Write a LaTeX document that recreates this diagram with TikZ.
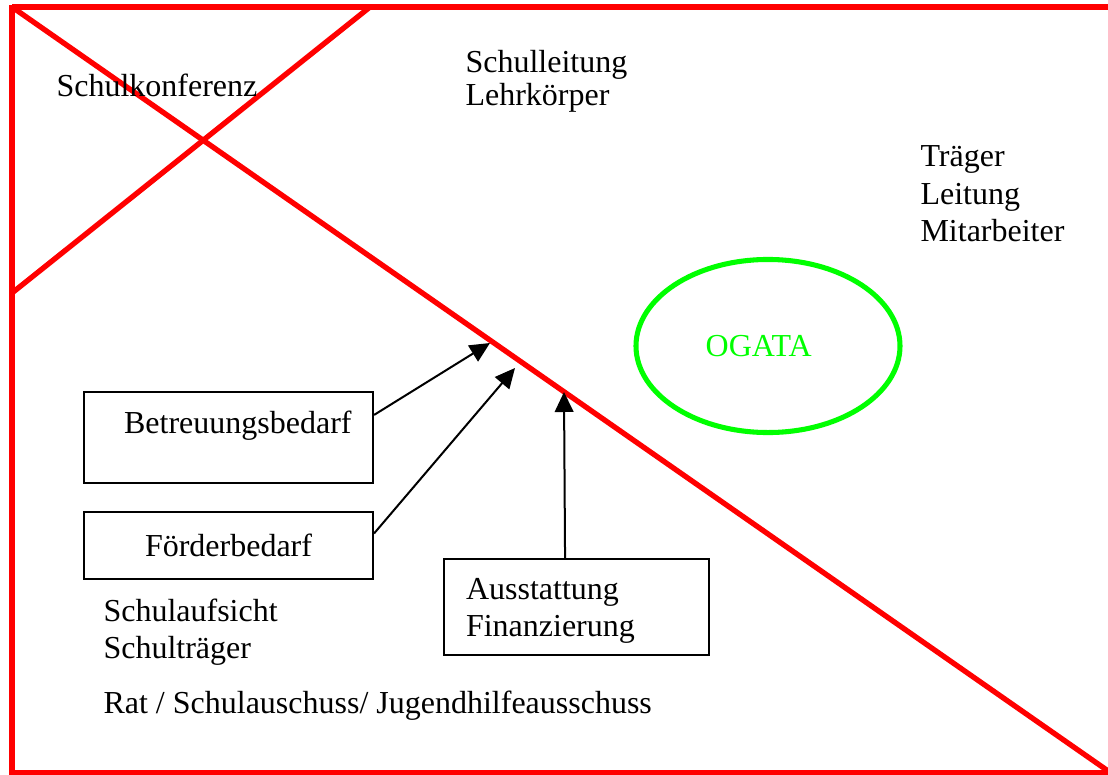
\documentclass[tikz,border=0pt]{standalone}
\usepackage{fontspec}
\setmainfont{Liberation Serif}
\usetikzlibrary{arrows.meta,positioning,shapes.geometric}
\definecolor{rahmenrot}{RGB}{255,0,0}
\definecolor{ogagruen}{RGB}{0,255,0}

\begin{document}
\begin{tikzpicture}[x=0.375pt, y=-0.375pt,
  font=\fontsize{12}{13.9}\selectfont,
  rot/.style={rahmenrot, line width=2pt},
  kasten/.style={draw, line width=0.75pt, inner sep=0pt},
  pfeil/.style={-{Triangle[length=7.5pt, width=7pt]}, line width=0.75pt}]
\useasboundingbox (0,0) rectangle (1108,775);
% Rahmen
\draw[rot] (12,7) -- (1112,7);
\draw[rot] (12,5) -- (12,780);
\draw[rot] (10,773) -- (1112,773);
% Diagonalen
\draw[rot] (12,7) -- (1111,773);
\draw[rot] (370,7) -- (12,293);
% Beteiligte
\node[anchor=base west, inner sep=0pt] (konf) at (56,96) {Schulkonferenz};
\node[anchor=north west, inner sep=0pt, align=left, font=\fontsize{12}{12.4}\selectfont] (leitung) at (465,50) {Schulleitung\\Lehrkörper};
\node[anchor=north west, inner sep=0pt, align=left, font=\fontsize{12}{14.1}\selectfont] (traeger) at (920,145) {Träger\\Leitung\\Mitarbeiter};
\node[anchor=north west, inner sep=0pt, align=left] (aufsicht) at (103,598) {Schulaufsicht\\Schulträger};
\node[anchor=base west, inner sep=0pt] (rat) at (103,713) {Rat / Schulauschuss/ Jugendhilfeausschuss};
% OGATA
\node[ellipse, draw=ogagruen, line width=1.9pt, minimum width=99pt, minimum height=64.9pt, inner sep=0pt, text=ogagruen] (ogata) at (768,346) {OGATA\kern7pt};
% Kaesten
\node[kasten, anchor=north west, minimum width=108.4pt, text height=15.4pt, text depth=18.8pt] (betr) at (83,391) {\hspace{7pt}Betreuungsbedarf};
\node[kasten, anchor=north west, minimum width=108.4pt, minimum height=25.1pt] (foerd) at (83,511) {Förderbedarf};
\node[kasten, anchor=north west, align=left, text width=82.9pt, inner xsep=8.25pt, text height=15pt, text depth=21pt] (ausst) at (443,558) {Ausstattung\\Finanzierung};
% Pfeile zur Linie
\coordinate (z1) at (490,343);
\coordinate (z2) at (515,368);
\coordinate (z3) at (564,392);
\draw[pfeil] ([yshift=8.5pt]betr.east) -- (z1);
\draw[pfeil] ([yshift=4.5pt]foerd.east) -- (z2);
\draw[pfeil] ([xshift=-4.3pt]ausst.north) -- (z3);
\end{tikzpicture}
\end{document}
